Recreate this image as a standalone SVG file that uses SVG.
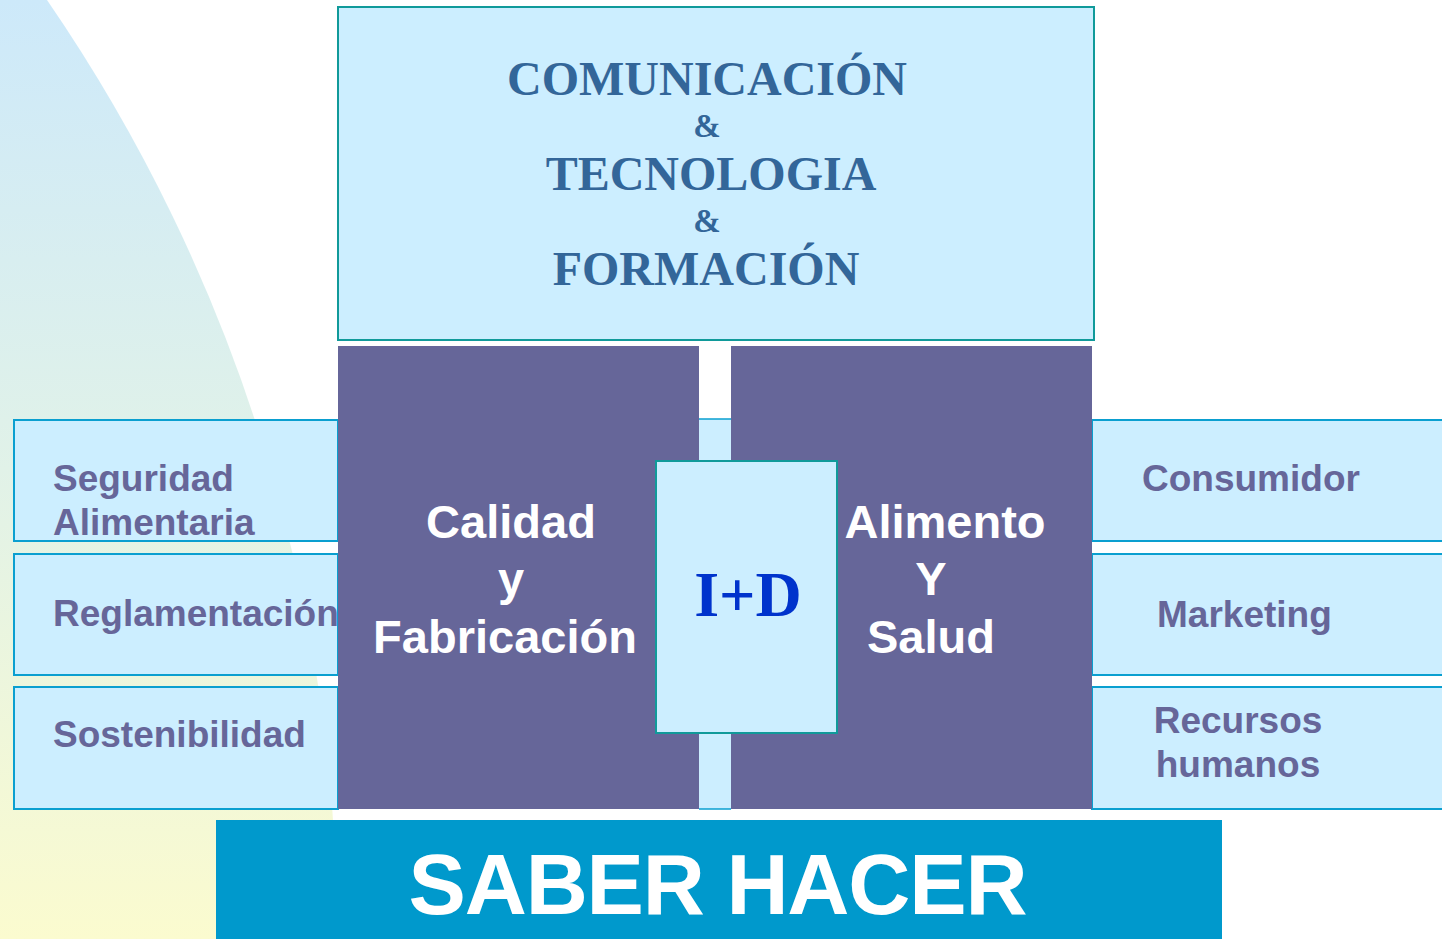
<svg xmlns="http://www.w3.org/2000/svg" width="1442" height="939" viewBox="0 0 1442 939">
<style>
.side{fill:#cceeff;stroke:#0a9fd0;stroke-width:2}
.sideT{font-family:"Liberation Sans",Arial,sans-serif;font-weight:bold;font-size:37px;fill:#666699}
.pillar{fill:#666699}
.pillT{font-family:"Liberation Sans",Arial,sans-serif;font-weight:bold;font-size:47px;fill:#ffffff;text-anchor:middle}
.topT{font-family:"Liberation Serif","Times New Roman",serif;font-weight:bold;fill:#336699;text-anchor:middle}
</style>
<defs>
<linearGradient id="bg" x1="0" y1="0" x2="0" y2="1">
<stop offset="0" stop-color="#cde9fa"/>
<stop offset="0.5" stop-color="#e1f2e8"/>
<stop offset="1" stop-color="#fbfbcf"/>
</linearGradient>
</defs>
<rect width="1442" height="939" fill="#ffffff"/>
<path d="M0 0 L47 0 A1648 1648 0 0 1 337 939 L0 939 Z" fill="url(#bg)"/>

<g id="strip">
<rect x="699" y="419" width="32" height="390" fill="#cceeff"/>
<line x1="699" y1="419" x2="731" y2="419" stroke="#0a9fd0" stroke-width="1.5"/>
<line x1="699" y1="809" x2="731" y2="809" stroke="#0a9fd0" stroke-width="1.5"/>
</g>

<g id="seguridad">
<rect class="side" x="14" y="420" width="324" height="121"/>
<text class="sideT" x="53" y="491">Seguridad</text>
<text class="sideT" x="53" y="535">Alimentaria</text>
</g>
<g id="reglamentacion">
<rect class="side" x="14" y="554" width="324" height="121"/>
<text class="sideT" x="53" y="626">Reglamentación</text>
</g>
<g id="sostenibilidad">
<rect class="side" x="14" y="687" width="324" height="122"/>
<text class="sideT" x="53" y="747">Sostenibilidad</text>
</g>

<g id="consumidor">
<rect class="side" x="1092" y="420" width="360" height="121"/>
<text class="sideT" x="1142" y="491">Consumidor</text>
</g>
<g id="marketing">
<rect class="side" x="1092" y="554" width="360" height="121"/>
<text class="sideT" x="1157" y="627">Marketing</text>
</g>
<g id="recursos">
<rect class="side" x="1092" y="687" width="360" height="122"/>
<text class="sideT" x="1238" y="733" text-anchor="middle">Recursos</text>
<text class="sideT" x="1238" y="777" text-anchor="middle">humanos</text>
</g>

<g id="top">
<rect x="338" y="7" width="756" height="333" fill="#cceeff" stroke="#109a9a" stroke-width="2"/>
<text class="topT" x="707" y="95" font-size="48">COMUNICACIÓN</text>
<text class="topT" x="707" y="137" font-size="33">&amp;</text>
<text class="topT" x="711" y="190" font-size="48">TECNOLOGIA</text>
<text class="topT" x="707" y="232" font-size="33">&amp;</text>
<text class="topT" x="706" y="285" font-size="48">FORMACIÓN</text>
</g>

<g id="calidad">
<rect class="pillar" x="338" y="346" width="361" height="463"/>
<text class="pillT" x="511" y="538">Calidad</text>
<text class="pillT" x="511" y="595">y</text>
<text class="pillT" x="505" y="653">Fabricación</text>
</g>
<g id="alimento">
<rect class="pillar" x="731" y="346" width="361" height="463"/>
<text class="pillT" x="945" y="538">Alimento</text>
<text class="pillT" x="931" y="595">Y</text>
<text class="pillT" x="931" y="653">Salud</text>
</g>

<g id="id">
<rect x="656" y="461" width="181" height="272" fill="#cceeff" stroke="#109a9a" stroke-width="2"/>
<text x="748" y="616" font-family="'Liberation Serif','Times New Roman',serif" font-weight="bold" font-size="64" fill="#0033cc" text-anchor="middle">I+D</text>
</g>

<g id="saber">
<rect x="216" y="820" width="1006" height="125" fill="#0099cc"/>
<text x="718" y="914" font-family="'Liberation Sans',Arial,sans-serif" font-weight="bold" font-size="86" fill="#ffffff" text-anchor="middle" textLength="619">SABER HACER</text>
</g>

<g id="connectors"></g>
</svg>
